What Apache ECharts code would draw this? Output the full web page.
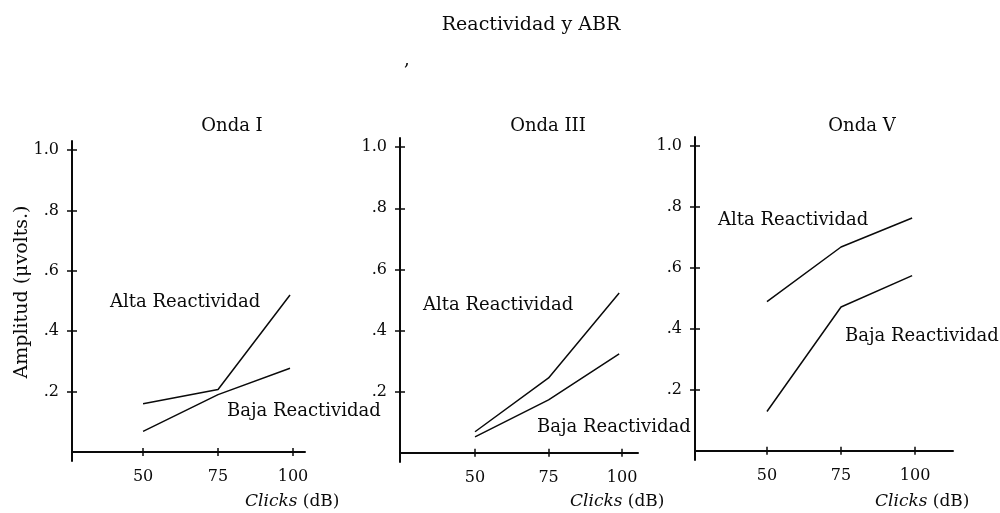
<!DOCTYPE html>
<html>
<head>
<meta charset="utf-8">
<script src="https://cdn.jsdelivr.net/npm/echarts@6/dist/echarts.min.js"></script>
<style>html,body{margin:0;padding:0;background:#fff}#c{width:1000px;height:513px}</style>
</head>
<body>
<div id="c"></div>
<script>
// ---- data ----
const clicks = [50, 75, 99];
const altaI = [0.16, 0.207, 0.52];
const bajaI = [0.068, 0.19, 0.277];
const altaIII = [0.069, 0.245, 0.523];
const bajaIII = [0.052, 0.173, 0.324];
const altaV = [0.49, 0.669, 0.764];
const bajaV = [0.129, 0.472, 0.575];
const xTicks = [50, 75, 100];
const yTicks = [0.2, 0.4, 0.6, 0.8, 1.0];
const yTickLabels = ['.2', '.4', '.6', '.8', '1.0'];
const panelTitles = ['Onda I', 'Onda III', 'Onda V'];
const seriesNames = ['Alta Reactividad', 'Baja Reactividad'];
const mainTitle = 'Reactividad y ABR';
const yName = 'Amplitud (\u03bcvolts.)';

const FONT = '"DejaVu Serif", "Liberation Serif", serif';
const INK = '#0a0a0a';

const grids = [
  {left: 72, top: 141, width: 233, height: 320},
  {left: 400, top: 138, width: 238, height: 324},
  {left: 695, top: 137, width: 258, height: 323}
];
const xRanges = [[26.3, 104], [24.5, 105.4], [25.7, 112.8]];
const yRange = [-0.03, 1.03];
const panels = [[altaI, bajaI], [altaIII, bajaIII], [altaV, bajaV]];

const xAxes = [], yAxes = [], series = [];
grids.forEach((g, i) => {
  const lineStyle = {color: INK, width: 2};
  xAxes.push({
    type: 'value', gridIndex: i, position: 'bottom', min: xRanges[i][0], max: xRanges[i][1],
    axisLine: {show: true, onZero: true, lineStyle},
    axisTick: {show: true, customValues: xTicks, length: 4, lineStyle: {color: INK, width: 1.5}},
    axisLabel: {show: true, customValues: xTicks, margin: 8, fontFamily: FONT, fontSize: 16, color: INK},
    splitLine: {show: false}
  });
  xAxes.push({
    type: 'value', gridIndex: i, position: 'bottom', min: xRanges[i][0], max: xRanges[i][1],
    axisLine: {show: false, onZero: true},
    axisTick: {show: true, inside: true, customValues: xTicks, length: 4, lineStyle: {color: INK, width: 1.5}},
    axisLabel: {show: false},
    splitLine: {show: false}
  });
  yAxes.push({
    type: 'value', gridIndex: i, position: 'left', min: yRange[0], max: yRange[1],
    axisLine: {show: true, onZero: false, lineStyle},
    axisTick: {show: true, customValues: yTicks, length: 5, lineStyle: {color: INK, width: 1.5}},
    axisLabel: {show: true, customValues: yTicks, margin: 13, fontFamily: FONT, fontSize: 16, color: INK,
      formatter: v => yTickLabels[yTicks.indexOf(Math.round(v * 10) / 10)]},
    splitLine: {show: false}
  });
  yAxes.push({
    type: 'value', gridIndex: i, position: 'left', min: yRange[0], max: yRange[1],
    axisLine: {show: false, onZero: false},
    axisTick: {show: true, inside: true, customValues: yTicks, length: 5, lineStyle: {color: INK, width: 1.5}},
    axisLabel: {show: false},
    splitLine: {show: false}
  });
  panels[i].forEach((vals, k) => {
    series.push({
      type: 'line', name: seriesNames[k], xAxisIndex: 2 * i, yAxisIndex: 2 * i,
      data: clicks.map((c, j) => [c, vals[j]]),
      symbol: 'none', lineStyle: {color: INK, width: 1.5}, silent: true, animation: false
    });
  });
});

const txt = (text, x, y, opts = {}) => ({
  type: 'text', x, y, rotation: opts.rotation || 0, silent: true,
  style: Object.assign({text, font: (opts.size || 18) + 'px ' + FONT, fill: INK,
    textAlign: opts.align || 'left', textVerticalAlign: 'middle'}, opts.style || {})
});
const clicksLabel = (x, y) => ({
  type: 'text', x, y, silent: true,
  style: {text: '{i|Clicks} (dB)', font: '17px ' + FONT, fill: INK, textAlign: 'left', textVerticalAlign: 'middle',
    rich: {i: {fontStyle: 'italic', fontFamily: FONT, fontSize: 17, fill: INK}}}
});

const graphic = [
  txt(mainTitle, 531, 25, {align: 'center', size: 19}),
  txt(',', 404, 60, {size: 18}),
  txt(panelTitles[0], 232, 126, {align: 'center'}),
  txt(panelTitles[1], 548, 126, {align: 'center'}),
  txt(panelTitles[2], 862, 126, {align: 'center'}),
  txt(yName, 22, 292, {align: 'center', rotation: Math.PI / 2, size: 19}),
  txt(seriesNames[0], 110, 302),
  txt(seriesNames[1], 227, 411),
  txt(seriesNames[0], 423, 305),
  txt(seriesNames[1], 537, 427),
  txt(seriesNames[0], 718, 220),
  txt(seriesNames[1], 845, 336),
  clicksLabel(245, 502),
  clicksLabel(570, 502),
  clicksLabel(875, 502)
];

const chart = echarts.init(document.getElementById('c'), null, {renderer: 'canvas'});
chart.setOption({
  backgroundColor: '#fff',
  animation: false,
  grid: grids,
  xAxis: xAxes,
  yAxis: yAxes,
  series,
  graphic
});
</script>
</body>
</html>
